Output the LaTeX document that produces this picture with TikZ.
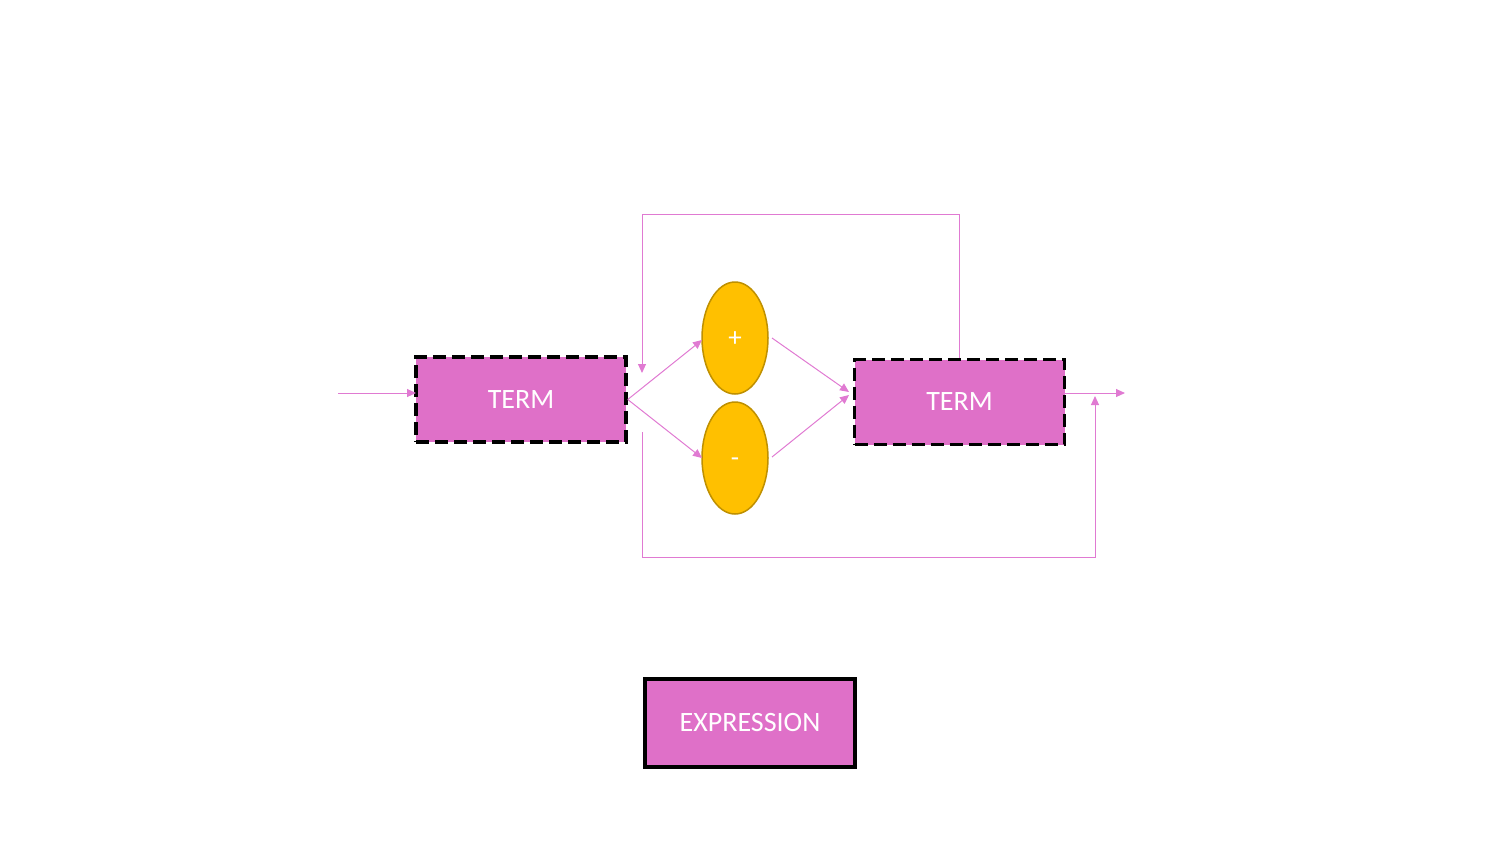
\documentclass[tikz,border=0pt]{standalone}
\usepackage{fontspec}
\setmainfont{Carlito}
\usetikzlibrary{arrows.meta,shapes.geometric}
\definecolor{termpink}{HTML}{DF70C8}
\definecolor{linepink}{HTML}{E07AD2}
\definecolor{opyellow}{HTML}{FFC000}
\definecolor{opborder}{HTML}{BF9000}
\tikzset{
  termbox/.style={draw=black, line width=3.5pt, dash pattern=on 13pt off 6pt, fill=termpink,
    minimum width=210pt, minimum height=85pt, inner sep=0pt, text=white,
    font=\fontsize{28}{32}\selectfont},
  exprbox/.style={draw=black, line width=3.5pt, fill=termpink,
    minimum width=210pt, minimum height=88pt, inner sep=0pt, text=white,
    font=\fontsize{28}{32}\selectfont},
  opnode/.style={ellipse, draw=opborder, line width=1.5pt, fill=opyellow,
    minimum width=66pt, minimum height=112pt, inner sep=0pt, text=white,
    text height=18pt, text depth=2pt,
    font=\fontsize{27}{30}\selectfont},
  conn/.style={draw=linepink, line width=1pt, -{Triangle[length=9pt,width=8pt]}}
}
\begin{document}
\begin{tikzpicture}[x=1pt,y=-1pt]
\useasboundingbox (0,0) rectangle (1500,844);
\node[termbox] (lterm) at (521,399.5) {TERM};
\node[termbox] (rterm) at (959.5,402) {TERM};
\node[opnode] (plus) at (735,338) {+};
\node[opnode] (minus) at (735,458) {-};
\node[exprbox] (expr) at (750,723) {EXPRESSION};
% coordinates
\coordinate (in) at (338,393);
\coordinate (inend) at (416,393);
\coordinate (plusin) at (702,340);
\coordinate (minusin) at (702,458);
\coordinate (plusout) at (772,338);
\coordinate (minusout) at (772,457);
\coordinate (rin1) at (849,392);
\coordinate (rin2) at (849,395);
\coordinate (topR) at (959.5,214);
\coordinate (topL) at (642,214);
\coordinate (topEnd) at (642,373);
\coordinate (botStart) at (642,432);
\coordinate (botL) at (642,557);
\coordinate (botR) at (1095,557);
\coordinate (botEnd) at (1095,396);
\coordinate (outStart) at (1064,393);
\coordinate (out) at (1125,393);
% connectors
\draw[conn] (in) -- (inend);
\draw[conn] (lterm.east) -- (plusin);
\draw[conn] (lterm.east) -- (minusin);
\draw[conn] (plusout) -- (rin1);
\draw[conn] (minusout) -- (rin2);
\draw[conn] (rterm.north) -- (topR) -- (topL) -- (topEnd);
\draw[conn] (botStart) -- (botL) -- (botR) -- (botEnd);
\draw[conn] (outStart) -- (out);
\end{tikzpicture}
\end{document}
